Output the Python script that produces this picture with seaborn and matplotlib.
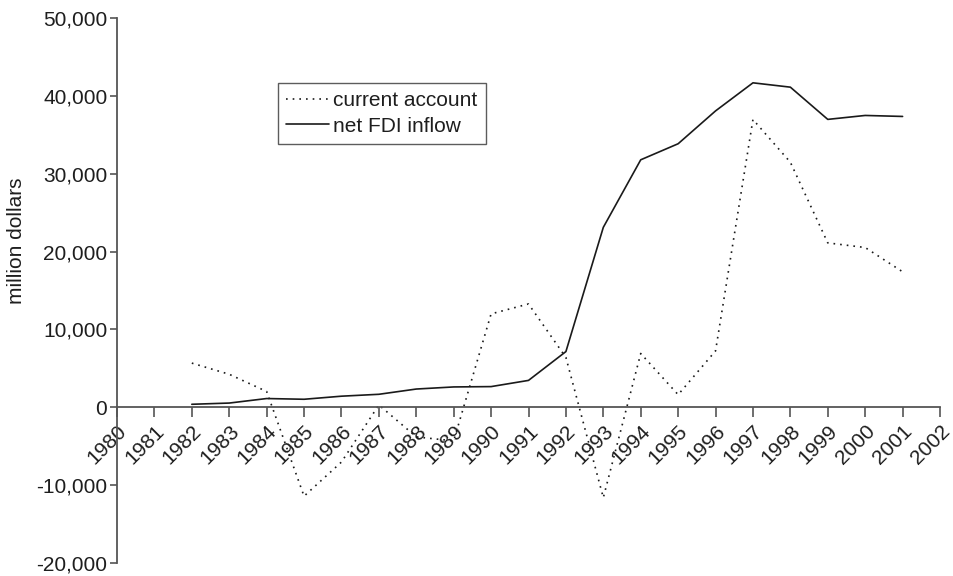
import matplotlib
matplotlib.use("Agg")
import matplotlib.pyplot as plt
import seaborn as sns
import pandas as pd
from matplotlib.ticker import FuncFormatter, FixedLocator
from matplotlib.lines import Line2D

years = list(range(1982, 2002))
current_account = [5674, 4240, 2030, -11417, -7034, 300, -3802, -4317, 11997, 13272,
                   6401, -11609, 6908, 1618, 7243, 36963, 31472, 21115, 20519, 17405]
net_fdi = [386, 543, 1124, 1030, 1425, 1669, 2344, 2613, 2657, 3453,
           7156, 23115, 31787, 33849, 38066, 41674, 41117, 36978, 37483, 37356]
series_names = ["current account", "net FDI inflow"]
tick_years = list(range(1980, 2003))
y_ticks = [-20000, -10000, 0, 10000, 20000, 30000, 40000, 50000]

df = pd.DataFrame({
    "year": years * 2,
    "value": current_account + net_fdi,
    "series": [series_names[0]] * len(years) + [series_names[1]] * len(years),
})

sns.set_style("ticks")
plt.rcParams['font.family'] = ['Liberation Sans', 'DejaVu Sans']
FS = 15

fig = plt.figure(figsize=(9.54, 5.76), dpi=100)
ax = fig.add_axes([117/954, 13/576, (940-117)/954, (563-18)/576])

sns.lineplot(data=df, x="year", y="value", hue="series", style="series",
             palette={series_names[0]: "#1a1a1a", series_names[1]: "#1a1a1a"},
             dashes={series_names[0]: (1, 3), series_names[1]: ""},
             linewidth=1.2, ax=ax, legend=False)

ax.set_xlim(1980, 2002)
ax.set_ylim(-20000, 50000)
ax.yaxis.set_major_locator(FixedLocator(y_ticks))
ax.yaxis.set_major_formatter(FuncFormatter(lambda v, p: f"{int(v):,}"))
ax.xaxis.set_major_locator(FixedLocator(tick_years))
ax.set_xticklabels([str(y) for y in tick_years])

for s in ["top", "right"]:
    ax.spines[s].set_visible(False)
ax.spines["bottom"].set_position(("data", 0))
for s in ["left", "bottom"]:
    ax.spines[s].set_color("#555555")
    ax.spines[s].set_linewidth(1.3)

ax.tick_params(axis="y", direction="out", length=5, width=1.2, color="#555555",
               labelsize=FS, pad=2, labelcolor="#1e1e1e")
ax.tick_params(axis="x", direction="out", length=7, width=1.2, color="#555555",
               labelsize=FS, pad=3, labelcolor="#1e1e1e")
for lab in ax.get_xticklabels():
    lab.set_rotation(45)
    lab.set_ha("right")
    lab.set_va("top")
    lab.set_rotation_mode("anchor")

ax.set_xlabel("")
ax.set_ylabel("million dollars", fontsize=FS, color="#1e1e1e")
ax.yaxis.set_label_coords((26-117)/823, (563-241)/545)

handles = [Line2D([], [], color="#1a1a1a", lw=1.2, linestyle=(0, (1, 3))),
           Line2D([], [], color="#1a1a1a", lw=1.2)]
leg = ax.legend(handles, series_names, loc="upper left",
                bbox_to_anchor=((278-117)/823, (563-83)/545), borderaxespad=0,
                fontsize=FS, frameon=True, fancybox=False, handlelength=2.05,
                handletextpad=0.2, borderpad=0.4, labelspacing=0.3)
leg.get_frame().set_edgecolor("#333333")
leg.get_frame().set_linewidth(1.0)
for t in leg.get_texts():
    t.set_color("#1e1e1e")

fig.savefig("out.png", dpi=100)
